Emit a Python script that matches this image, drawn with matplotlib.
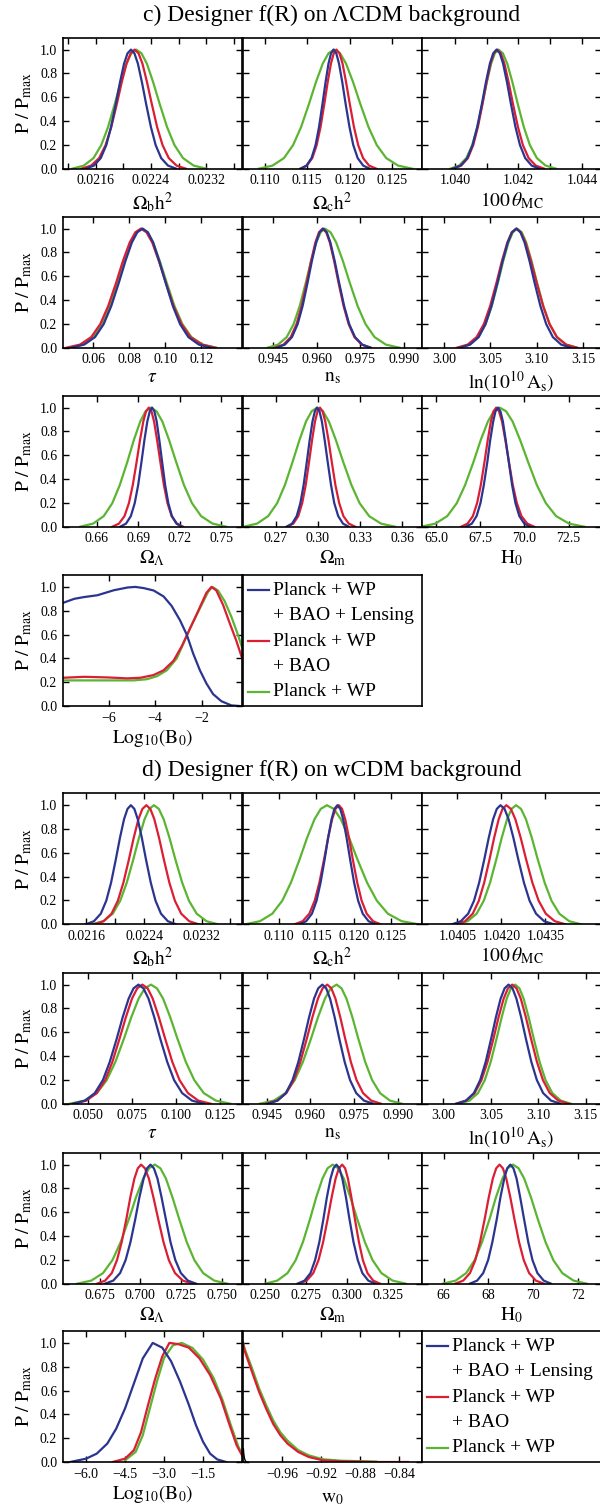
import matplotlib
matplotlib.use('Agg')
import matplotlib.pyplot as plt

plt.rcParams['font.family'] = ['Liberation Serif', 'DejaVu Serif']
plt.rcParams['mathtext.fontset'] = 'stix'

BLUE = '#2b3590'
RED = '#dc1e34'
GREEN = '#5cb532'

# y levels at which the x positions of each curve were read (left tail -> peak -> right tail)
LEVELS = [0.0, 0.026, 0.089, 0.198, 0.35, 0.546, 0.726, 0.883, 0.969, 1.0,
          0.969, 0.883, 0.726, 0.546, 0.35, 0.198, 0.089, 0.026, 0.0]
Y_TICKS = [0.0, 0.2, 0.4, 0.6, 0.8, 1.0]
Y_TICKLABELS = ['0.0', '0.2', '0.4', '0.6', '0.8', '1.0']

# ---------------- c) Designer f(R) on LCDM background ----------------
c_ombh2_lim = (0.02112, 0.02372)
c_ombh2_ticks = [0.0212, 0.0216, 0.0220, 0.0224, 0.0228, 0.0232, 0.0236]
c_ombh2_ticklabels = ['', '0.0216', '', '0.0224', '', '0.0232', '']
c_ombh2_blue = [0.021453, 0.021573, 0.021672, 0.021752, 0.021821, 0.021891, 0.021951, 0.02201, 0.02206, 0.02211, 0.02216, 0.02221, 0.022269, 0.022329, 0.022399, 0.022468, 0.022548, 0.022647, 0.022767]
c_ombh2_red = [0.021391, 0.021531, 0.021648, 0.021742, 0.021824, 0.021906, 0.021976, 0.022046, 0.022105, 0.022163, 0.022219, 0.022276, 0.022343, 0.022411, 0.022489, 0.022568, 0.022658, 0.022771, 0.022906]
c_ombh2_green = [0.021258, 0.021426, 0.021567, 0.021679, 0.021778, 0.021876, 0.02196, 0.022045, 0.022115, 0.022185, 0.022262, 0.02234, 0.022432, 0.022525, 0.022633, 0.022741, 0.022865, 0.023019, 0.023205]

c_omch2_lim = (0.1074, 0.1286)
c_omch2_ticks = [0.110, 0.115, 0.120, 0.125]
c_omch2_ticklabels = ['0.110', '0.115', '0.120', '0.125']
c_omch2_blue = [0.11421, 0.11491, 0.1155, 0.11598, 0.11639, 0.1168, 0.11716, 0.11751, 0.11781, 0.1181, 0.11843, 0.11875, 0.11914, 0.11953, 0.11999, 0.12044, 0.12096, 0.12161, 0.12239]
c_omch2_red = [0.11416, 0.11494, 0.11559, 0.11611, 0.11657, 0.11702, 0.11741, 0.1178, 0.11813, 0.11845, 0.11881, 0.11917, 0.11959, 0.12002, 0.12052, 0.12102, 0.1216, 0.12231, 0.12317]
c_omch2_green = [0.10927, 0.11089, 0.11224, 0.11332, 0.11427, 0.11521, 0.11602, 0.11683, 0.11751, 0.11818, 0.11888, 0.11958, 0.12042, 0.12126, 0.12224, 0.12322, 0.12434, 0.12574, 0.12742]

c_theta_lim = (1.03896, 1.04461)
c_theta_ticks = [1.040, 1.041, 1.042, 1.043, 1.044]
c_theta_ticklabels = ['1.040', '', '1.042', '', '1.044']
c_theta_blue = [1.039924, 1.040176, 1.040386, 1.040554, 1.040701, 1.040848, 1.040974, 1.0411, 1.041205, 1.04131, 1.041413, 1.041515, 1.041638, 1.041761, 1.041905, 1.042048, 1.042212, 1.042417, 1.042663]
c_theta_red = [1.039944, 1.040196, 1.040406, 1.040574, 1.040721, 1.040868, 1.040994, 1.04112, 1.041225, 1.04133, 1.041443, 1.041555, 1.04169, 1.041825, 1.041983, 1.04214, 1.04232, 1.042545, 1.042815]
c_theta_green = [1.039852, 1.040128, 1.040358, 1.040542, 1.040703, 1.040864, 1.041002, 1.04114, 1.041255, 1.04137, 1.041508, 1.041645, 1.04181, 1.041975, 1.042168, 1.04236, 1.04258, 1.042855, 1.043185]

c_tau_lim = (0.0432, 0.1425)
c_tau_ticks = [0.06, 0.08, 0.10, 0.12]
c_tau_ticklabels = ['0.06', '0.08', '0.10', '0.12']
c_tau_blue = [0.0479, 0.0551, 0.0611, 0.0659, 0.0701, 0.0743, 0.0779, 0.0815, 0.0845, 0.0875, 0.0904, 0.0933, 0.0967, 0.1002, 0.1042, 0.1082, 0.1128, 0.1186, 0.1255]
c_tau_red = [0.0453, 0.0528, 0.059, 0.064, 0.0684, 0.0728, 0.0765, 0.0803, 0.0834, 0.0865, 0.0896, 0.0928, 0.0965, 0.1003, 0.1046, 0.109, 0.114, 0.1203, 0.1278]
c_tau_green = [0.0467, 0.0541, 0.0602, 0.065, 0.0693, 0.0736, 0.0772, 0.0809, 0.084, 0.087, 0.0901, 0.0933, 0.097, 0.1008, 0.1051, 0.1095, 0.1145, 0.1208, 0.1283]

c_ns_lim = (0.9345, 0.99645)
c_ns_ticks = [0.945, 0.960, 0.975, 0.990]
c_ns_ticklabels = ['0.945', '0.960', '0.975', '0.990']
c_ns_blue = [0.94603, 0.94897, 0.95142, 0.95338, 0.9551, 0.95681, 0.95828, 0.95975, 0.96098, 0.9622, 0.96345, 0.9647, 0.9662, 0.9677, 0.96945, 0.9712, 0.9732, 0.9757, 0.9787]
c_ns_red = [0.9455, 0.9485, 0.951, 0.953, 0.95475, 0.9565, 0.958, 0.9595, 0.96075, 0.962, 0.96325, 0.9645, 0.966, 0.9675, 0.96925, 0.971, 0.973, 0.9755, 0.9785]
c_ns_green = [0.943, 0.9466, 0.9496, 0.952, 0.9541, 0.9562, 0.958, 0.9598, 0.9613, 0.9628, 0.96475, 0.9667, 0.96904, 0.97138, 0.97411, 0.97684, 0.97996, 0.98386, 0.98854]

c_logA_lim = (2.976, 3.17)
c_logA_ticks = [3.00, 3.05, 3.10, 3.15]
c_logA_ticklabels = ['3.00', '3.05', '3.10', '3.15']
c_logA_blue = [3.017, 3.028, 3.0373, 3.0447, 3.0512, 3.0577, 3.0632, 3.0688, 3.0734, 3.078, 3.0825, 3.087, 3.0924, 3.0978, 3.1041, 3.1104, 3.1176, 3.1266, 3.1374]
c_logA_red = [3.0137, 3.0254, 3.0351, 3.0429, 3.0497, 3.0566, 3.0624, 3.0683, 3.0731, 3.078, 3.083, 3.088, 3.094, 3.1, 3.107, 3.114, 3.122, 3.132, 3.144]
c_logA_green = [3.0163, 3.0277, 3.0372, 3.0448, 3.0515, 3.0581, 3.0638, 3.0695, 3.0743, 3.079, 3.0839, 3.0888, 3.0946, 3.1005, 3.1073, 3.1141, 3.1219, 3.1317, 3.1434]

c_omL_lim = (0.6352, 0.7649)
c_omL_ticks = [0.66, 0.69, 0.72, 0.75]
c_omL_ticklabels = ['0.66', '0.69', '0.72', '0.75']
c_omL_blue = [0.6768, 0.681, 0.6845, 0.6873, 0.6898, 0.6922, 0.6943, 0.6964, 0.6982, 0.6999, 0.7015, 0.7032, 0.7051, 0.7071, 0.7093, 0.7116, 0.7142, 0.7175, 0.7214]
c_omL_red = [0.6711, 0.6759, 0.6799, 0.6831, 0.6859, 0.6887, 0.6911, 0.6935, 0.6955, 0.6975, 0.6994, 0.7013, 0.7035, 0.7058, 0.7084, 0.711, 0.714, 0.7178, 0.7223]
c_omL_green = [0.6479, 0.6572, 0.6649, 0.6711, 0.6765, 0.682, 0.6866, 0.6913, 0.6951, 0.699, 0.7031, 0.7073, 0.7122, 0.7172, 0.7229, 0.7287, 0.7353, 0.7436, 0.7535]

c_omm_lim = (0.2468, 0.3743)
c_omm_ticks = [0.27, 0.30, 0.33, 0.36]
c_omm_ticklabels = ['0.27', '0.30', '0.33', '0.36']
c_omm_blue = [0.2777, 0.2817, 0.285, 0.2876, 0.2899, 0.2922, 0.2942, 0.2962, 0.2979, 0.2995, 0.3012, 0.3029, 0.3049, 0.307, 0.3094, 0.3117, 0.3145, 0.3179, 0.3219]
c_omm_red = [0.2784, 0.2826, 0.2861, 0.2889, 0.2914, 0.2938, 0.2959, 0.298, 0.2998, 0.3015, 0.3034, 0.3053, 0.3076, 0.3099, 0.3125, 0.3152, 0.3182, 0.322, 0.3266]
c_omm_green = [0.2474, 0.2568, 0.2647, 0.2711, 0.2766, 0.2821, 0.2869, 0.2916, 0.2956, 0.2995, 0.3037, 0.3079, 0.3129, 0.318, 0.3239, 0.3297, 0.3365, 0.3449, 0.3549]

c_H0_lim = (64.2, 74.35)
c_H0_ticks = [65.0, 67.5, 70.0, 72.5]
c_H0_ticklabels = ['65.0', '67.5', '70.0', '72.5']
c_H0_blue = [66.69, 67.02, 67.29, 67.51, 67.70, 67.90, 68.06, 68.23, 68.36, 68.5, 68.64, 68.78, 68.94, 69.11, 69.30, 69.49, 69.71, 69.99, 70.32]
c_H0_red = [66.42, 66.78, 67.08, 67.32, 67.53, 67.74, 67.92, 68.1, 68.25, 68.4, 68.56, 68.73, 68.92, 69.12, 69.34, 69.57, 69.83, 70.16, 70.55]
c_H0_green = [64.15, 64.96, 65.63, 66.17, 66.64, 67.12, 67.52, 67.93, 68.26, 68.6, 68.96, 69.33, 69.76, 70.2, 70.7, 71.21, 71.79, 72.52, 73.39]

c_B0_lim = (-8.0, -0.25)
c_B0_ticks = [-6, -4, -2]
c_B0_ticklabels = ['\u22126', '\u22124', '\u22122']
c_B0_blue_x = [-8.0, -7.5, -7.07, -6.5, -5.79, -5.2, -4.86, -4.5, -4.07, -3.64, -3.29, -2.93, -2.64, -2.36, -2.07, -1.79, -1.5, -1.14, -0.71, -0.36]
c_B0_blue_y = [0.865, 0.90, 0.915, 0.93, 0.972, 0.995, 1.0, 0.99, 0.97, 0.92, 0.84, 0.72, 0.6, 0.44, 0.30, 0.19, 0.10, 0.04, 0.005, 0.0]
c_B0_red_x = [-8.0, -7.07, -6.07, -5.21, -4.64, -4.07, -3.64, -3.21, -2.86, -2.57, -2.14, -1.79, -1.57, -1.36, -1.07, -0.79, -0.5, -0.26]
c_B0_red_y = [0.237, 0.245, 0.24, 0.232, 0.237, 0.26, 0.30, 0.38, 0.50, 0.62, 0.80, 0.95, 1.0, 0.97, 0.85, 0.70, 0.55, 0.41]
c_B0_green_x = [-8.0, -7.07, -4.93, -4.36, -3.93, -3.5, -3.07, -2.79, -2.5, -2.07, -1.71, -1.53, -1.29, -1.0, -0.71, -0.43, -0.26]
c_B0_green_y = [0.215, 0.215, 0.215, 0.225, 0.25, 0.30, 0.40, 0.52, 0.65, 0.82, 0.96, 1.0, 0.97, 0.88, 0.75, 0.60, 0.50]

# ---------------- d) Designer f(R) on wCDM background ----------------
d_ombh2_lim = (0.02127, 0.02376)
d_ombh2_ticks = [0.0216, 0.0220, 0.0224, 0.0228, 0.0232, 0.0236]
d_ombh2_ticklabels = ['0.0216', '', '0.0224', '', '0.0232', '']
d_ombh2_blue = [0.02159, 0.021704, 0.021799, 0.021875, 0.021942, 0.022008, 0.022065, 0.022122, 0.02217, 0.022217, 0.022265, 0.022312, 0.022369, 0.022426, 0.022493, 0.022559, 0.022635, 0.02273, 0.022844]
d_ombh2_red = [0.021706, 0.021838, 0.021948, 0.022036, 0.022113, 0.02219, 0.022256, 0.022322, 0.022377, 0.022432, 0.022487, 0.022542, 0.022608, 0.022674, 0.022751, 0.022828, 0.022916, 0.023026, 0.023158]
d_ombh2_green = [0.021679, 0.021835, 0.021965, 0.022069, 0.02216, 0.022251, 0.022329, 0.022407, 0.022472, 0.022537, 0.022605, 0.022672, 0.022753, 0.022834, 0.022929, 0.023023, 0.023131, 0.023266, 0.023428]

d_omch2_lim = (0.10514, 0.1292)
d_omch2_ticks = [0.110, 0.115, 0.120, 0.125]
d_omch2_ticklabels = ['0.110', '0.115', '0.120', '0.125']
d_omch2_blue = [0.11269, 0.11362, 0.11439, 0.11501, 0.11555, 0.1161, 0.11656, 0.11703, 0.11741, 0.1178, 0.11819, 0.11858, 0.11904, 0.11951, 0.12005, 0.12059, 0.12121, 0.12199, 0.12292]
d_omch2_red = [0.11206, 0.11314, 0.11404, 0.11476, 0.11539, 0.11602, 0.11656, 0.1171, 0.11755, 0.118, 0.11843, 0.11885, 0.11936, 0.11987, 0.12047, 0.12106, 0.12174, 0.12259, 0.12361]
d_omch2_green = [0.10541, 0.10741, 0.10907, 0.11041, 0.11157, 0.11274, 0.11374, 0.11474, 0.11557, 0.1164, 0.11733, 0.11826, 0.11938, 0.12049, 0.12179, 0.1231, 0.12458, 0.12644, 0.12868]

d_theta_lim = (1.0393, 1.0454)
d_theta_ticks = [1.0405, 1.0420, 1.0435]
d_theta_ticklabels = ['1.0405', '1.0420', '1.0435']
d_theta_blue = [1.04032, 1.04062, 1.04087, 1.04107, 1.041245, 1.04142, 1.04157, 1.04172, 1.041845, 1.04197, 1.042108, 1.042245, 1.04241, 1.042575, 1.042768, 1.04296, 1.04318, 1.043455, 1.043785]
d_theta_red = [1.040454, 1.040766, 1.041026, 1.041234, 1.041416, 1.041598, 1.041754, 1.04191, 1.04204, 1.04217, 1.042323, 1.042475, 1.042658, 1.042841, 1.043055, 1.043268, 1.043512, 1.043817, 1.044183]
d_theta_green = [1.040487, 1.040853, 1.041158, 1.041402, 1.041616, 1.041829, 1.042012, 1.042195, 1.042348, 1.0425, 1.042668, 1.042835, 1.043036, 1.043237, 1.043472, 1.043706, 1.043974, 1.044309, 1.044711]

d_tau_lim = (0.0354, 0.1376)
d_tau_ticks = [0.050, 0.075, 0.100, 0.125]
d_tau_ticklabels = ['0.050', '0.075', '0.100', '0.125']
d_tau_blue = [0.0413, 0.0481, 0.0537, 0.0583, 0.0622, 0.0662, 0.0696, 0.073, 0.0758, 0.0786, 0.0814, 0.0843, 0.0876, 0.091, 0.095, 0.0989, 0.1035, 0.1091, 0.1159]
d_tau_red = [0.0419, 0.0489, 0.0548, 0.0596, 0.0637, 0.0678, 0.0714, 0.0749, 0.0779, 0.0808, 0.0838, 0.0867, 0.0902, 0.0938, 0.0979, 0.102, 0.1068, 0.1127, 0.1197]
d_tau_green = [0.0395, 0.0479, 0.0549, 0.0605, 0.0654, 0.0703, 0.0745, 0.0787, 0.0822, 0.0857, 0.0891, 0.0926, 0.0967, 0.1008, 0.1056, 0.1104, 0.1158, 0.1227, 0.1309]

d_ns_lim = (0.9368, 0.9985)
d_ns_ticks = [0.945, 0.960, 0.975, 0.990]
d_ns_ticklabels = ['0.945', '0.960', '0.975', '0.990']
d_ns_blue = [0.94529, 0.94871, 0.95156, 0.95384, 0.95584, 0.95783, 0.95954, 0.96125, 0.96268, 0.9641, 0.96543, 0.96675, 0.96834, 0.96993, 0.97179, 0.97364, 0.97576, 0.97841, 0.98159]
d_ns_red = [0.94468, 0.94852, 0.95172, 0.95428, 0.95652, 0.95876, 0.96068, 0.9626, 0.9642, 0.9658, 0.9672, 0.9686, 0.97028, 0.97196, 0.97392, 0.97588, 0.97812, 0.98092, 0.98428]
d_ns_green = [0.9426, 0.9474, 0.9514, 0.9546, 0.9574, 0.9602, 0.9626, 0.965, 0.967, 0.969, 0.9707, 0.9724, 0.97444, 0.97648, 0.97886, 0.98124, 0.98396, 0.98736, 0.99144]

d_logA_lim = (2.9774, 3.1664)
d_logA_ticks = [3.00, 3.05, 3.10, 3.15]
d_logA_ticklabels = ['3.00', '3.05', '3.10', '3.15']
d_logA_blue = [3.0138, 3.0238, 3.0321, 3.0387, 3.0445, 3.0503, 3.0553, 3.0603, 3.0645, 3.0686, 3.0728, 3.0769, 3.0819, 3.0869, 3.0927, 3.0985, 3.1051, 3.1134, 3.1234]
d_logA_red = [3.0131, 3.0239, 3.0329, 3.0401, 3.0464, 3.0527, 3.0581, 3.0635, 3.068, 3.0725, 3.077, 3.0815, 3.0869, 3.0923, 3.0986, 3.1049, 3.1121, 3.1211, 3.1319]
d_logA_green = [3.0169, 3.0275, 3.0364, 3.0436, 3.0498, 3.056, 3.0614, 3.0667, 3.0712, 3.0756, 3.0801, 3.0845, 3.0898, 3.0952, 3.1014, 3.1076, 3.1148, 3.1237, 3.1343]

d_omL_lim = (0.6523, 0.7626)
d_omL_ticks = [0.675, 0.700, 0.725, 0.750]
d_omL_ticklabels = ['0.675', '0.700', '0.725', '0.750']
d_omL_blue = [0.6783, 0.6834, 0.6876, 0.691, 0.694, 0.697, 0.6995, 0.7021, 0.7042, 0.7063, 0.7084, 0.7106, 0.7131, 0.7157, 0.7186, 0.7216, 0.725, 0.7293, 0.7344]
d_omL_red = [0.6734, 0.6784, 0.6825, 0.6857, 0.6886, 0.6915, 0.6939, 0.6964, 0.6985, 0.7005, 0.7029, 0.7053, 0.7081, 0.711, 0.7143, 0.7176, 0.7214, 0.7262, 0.7319]
d_omL_green = [0.6612, 0.6699, 0.6771, 0.6829, 0.688, 0.6931, 0.6974, 0.7018, 0.7054, 0.709, 0.7124, 0.7158, 0.7198, 0.7239, 0.7286, 0.7333, 0.7387, 0.7455, 0.7536]

d_omm_lim = (0.2366, 0.3458)
d_omm_ticks = [0.250, 0.275, 0.300, 0.325]
d_omm_ticklabels = ['0.250', '0.275', '0.300', '0.325']
d_omm_blue = [0.2697, 0.2741, 0.2777, 0.2805, 0.2831, 0.2856, 0.2877, 0.2899, 0.2917, 0.2935, 0.2953, 0.2971, 0.2993, 0.3014, 0.3039, 0.3065, 0.3093, 0.3129, 0.3173]
d_omm_red = [0.2706, 0.2754, 0.2794, 0.2826, 0.2854, 0.2882, 0.2906, 0.293, 0.295, 0.297, 0.2988, 0.3005, 0.3026, 0.3047, 0.3072, 0.3096, 0.3124, 0.3159, 0.3201]
d_omm_green = [0.25, 0.2575, 0.2637, 0.2687, 0.2731, 0.2775, 0.2812, 0.285, 0.2881, 0.2912, 0.2946, 0.298, 0.302, 0.3061, 0.3108, 0.3155, 0.3209, 0.3277, 0.3358]

d_H0_lim = (65.04, 73.04)
d_H0_ticks = [66, 68, 70, 72]
d_H0_ticklabels = ['66', '68', '70', '72']
d_H0_blue = [67.17, 67.5, 67.77, 67.99, 68.18, 68.38, 68.54, 68.71, 68.84, 68.98, 69.12, 69.26, 69.42, 69.59, 69.78, 69.97, 70.19, 70.47, 70.8]
d_H0_red = [66.52, 66.88, 67.18, 67.42, 67.63, 67.84, 68.02, 68.2, 68.35, 68.5, 68.65, 68.8, 68.98, 69.16, 69.37, 69.58, 69.82, 70.12, 70.48]
d_H0_green = [65.97, 66.54, 67.01, 67.39, 67.72, 68.06, 68.34, 68.63, 68.86, 69.1, 69.35, 69.6, 69.9, 70.2, 70.55, 70.9, 71.3, 71.8, 72.4]

d_B0_lim = (-6.9, 0.0)
d_B0_ticks = [-6.0, -4.5, -3.0, -1.5]
d_B0_ticklabels = ['\u22126.0', '\u22124.5', '\u22123.0', '\u22121.5']
d_B0_blue_x = [-6.614, -6.0, -5.591, -5.182, -4.841, -4.5, -4.159, -3.818, -3.436, -3.068, -2.727, -2.386, -2.045, -1.773, -1.5, -1.227, -0.955, -0.614]
d_B0_blue_y = [0.0, 0.028, 0.07, 0.155, 0.28, 0.45, 0.66, 0.87, 1.0, 0.96, 0.845, 0.676, 0.48, 0.31, 0.17, 0.07, 0.022, 0.0]
d_B0_red_x = [-4.977, -4.5, -4.159, -3.886, -3.614, -3.341, -3.068, -2.795, -2.455, -2.045, -1.636, -1.227, -0.818, -0.477, -0.205, 0.0]
d_B0_red_y = [0.0, 0.028, 0.1, 0.25, 0.48, 0.70, 0.887, 1.0, 0.99, 0.96, 0.87, 0.73, 0.535, 0.31, 0.14, 0.056]
d_B0_green_x = [-4.5, -4.091, -3.818, -3.545, -3.273, -3.0, -2.659, -2.318, -1.909, -1.5, -1.091, -0.75, -0.409, -0.136, 0.0]
d_B0_green_y = [0.014, 0.085, 0.225, 0.45, 0.676, 0.873, 0.98, 1.0, 0.958, 0.86, 0.704, 0.521, 0.296, 0.127, 0.07]

d_w0_lim = (-1.0, -0.8164)
d_w0_ticks = [-0.96, -0.92, -0.88, -0.84]
d_w0_ticklabels = ['\u22120.96', '\u22120.92', '\u22120.88', '\u22120.84']
d_w0_red_x = [-1.0, -0.9982, -0.9909, -0.9836, -0.9764, -0.9691, -0.9618, -0.9545, -0.9436, -0.9327, -0.9182, -0.9, -0.8636, -0.8309]
d_w0_red_y = [1.0, 0.93, 0.76, 0.59, 0.45, 0.32, 0.225, 0.155, 0.085, 0.042, 0.014, 0.006, 0.0, 0.0]
d_w0_green_x = [-1.0, -0.9982, -0.9909, -0.9836, -0.9764, -0.9691, -0.9618, -0.9545, -0.9436, -0.9327, -0.9182, -0.9, -0.8636]
d_w0_green_y = [1.0, 0.95, 0.79, 0.62, 0.48, 0.35, 0.25, 0.18, 0.10, 0.056, 0.023, 0.011, 0.003]
d_w0_black_x = [-0.9996, -0.9992, -0.9985, -0.9975, -0.996]
d_w0_black_y = [0.11, 0.07, 0.03, 0.008, 0.0]

LEGEND_LABELS = [['Planck + WP', '+ BAO + Lensing'], ['Planck + WP', '+ BAO'], ['Planck + WP']]

LBL = {
    'ombh2': r'$\Omega_{\rm b}{\rm h}^2$',
    'omch2': r'$\Omega_{\rm c}{\rm h}^2$',
    'theta': r'$100\,\theta_{\rm MC}$',
    'tau': r'$\tau$',
    'ns': r'${\rm n_s}$',
    'logA': r'${\rm ln}(10^{10}\,{\rm A_s})$',
    'omL': r'$\Omega_\Lambda$',
    'omm': r'$\Omega_{\rm m}$',
    'H0': r'${\rm H_0}$',
    'B0': r'${\rm Log}_{10}({\rm B_0})$',
    'w0': r'${\rm w_0}$',
}

# ---------------- layout (pixels) ----------------
W, H = 600, 1505
COL_X = [62.7, 243.0, 422.0]
AX_W = 179.3
AX_H = 131.0
C_ROWS = [37.7, 216.7, 395.7, 575.0]
D_ROWS = [793.3, 972.7, 1152.7, 1331.0]

fig = plt.figure(figsize=(W / 100, H / 100), dpi=100)


def make_ax(col, top):
    return fig.add_axes([COL_X[col] / W, 1 - (top + AX_H) / H, AX_W / W, AX_H / H])


def style(ax, col, xlim, ticks, ticklabels, xlabel, labelpad=2):
    ax.set_xlim(*xlim)
    ax.set_ylim(0, 1.1)
    ax.set_xticks(ticks)
    ax.set_xticklabels(ticklabels)
    ax.set_yticks(Y_TICKS)
    if col == 0:
        ax.set_yticklabels(Y_TICKLABELS)
        ax.set_ylabel(r'${\rm P\ /\ P_{max}}$', fontsize=14, labelpad=4)
    else:
        ax.set_yticklabels([])
    ax.tick_params(direction='in', top=True, right=True, length=4, width=1,
                   labelsize=10, pad=4)
    ax.set_xlabel(xlabel, fontsize=14, labelpad=labelpad)
    for s in ax.spines.values():
        s.set_linewidth(1.2)


def gauss_panel(col, top, xlim, ticks, ticklabels, xlabel, blue, red, green):
    ax = make_ax(col, top)
    ax.plot(green, LEVELS, color=GREEN, lw=1.6)
    ax.plot(red, LEVELS, color=RED, lw=1.6)
    ax.plot(blue, LEVELS, color=BLUE, lw=1.6)
    style(ax, col, xlim, ticks, ticklabels, xlabel)
    return ax


def legend_box(col, top):
    ax = make_ax(col, top)
    ax.set_xlim(0, 1)
    ax.set_ylim(0, 1)
    ax.set_xticks([])
    ax.set_yticks([])
    for s in ax.spines.values():
        s.set_linewidth(1.2)
    ys = [0.885, 0.496, 0.109]
    for color, y, lines in zip([BLUE, RED, GREEN], ys, LEGEND_LABELS):
        ax.plot([0.028, 0.145], [y, y], color=color, lw=1.6)
        for k, line in enumerate(lines):
            ax.text(0.167, y - k * 0.195, line, fontsize=14, va='center', ha='left')


# panel c
c_rows = [
    [('ombh2', c_ombh2_lim, c_ombh2_ticks, c_ombh2_ticklabels, c_ombh2_blue, c_ombh2_red, c_ombh2_green),
     ('omch2', c_omch2_lim, c_omch2_ticks, c_omch2_ticklabels, c_omch2_blue, c_omch2_red, c_omch2_green),
     ('theta', c_theta_lim, c_theta_ticks, c_theta_ticklabels, c_theta_blue, c_theta_red, c_theta_green)],
    [('tau', c_tau_lim, c_tau_ticks, c_tau_ticklabels, c_tau_blue, c_tau_red, c_tau_green),
     ('ns', c_ns_lim, c_ns_ticks, c_ns_ticklabels, c_ns_blue, c_ns_red, c_ns_green),
     ('logA', c_logA_lim, c_logA_ticks, c_logA_ticklabels, c_logA_blue, c_logA_red, c_logA_green)],
    [('omL', c_omL_lim, c_omL_ticks, c_omL_ticklabels, c_omL_blue, c_omL_red, c_omL_green),
     ('omm', c_omm_lim, c_omm_ticks, c_omm_ticklabels, c_omm_blue, c_omm_red, c_omm_green),
     ('H0', c_H0_lim, c_H0_ticks, c_H0_ticklabels, c_H0_blue, c_H0_red, c_H0_green)],
]
d_rows = [
    [('ombh2', d_ombh2_lim, d_ombh2_ticks, d_ombh2_ticklabels, d_ombh2_blue, d_ombh2_red, d_ombh2_green),
     ('omch2', d_omch2_lim, d_omch2_ticks, d_omch2_ticklabels, d_omch2_blue, d_omch2_red, d_omch2_green),
     ('theta', d_theta_lim, d_theta_ticks, d_theta_ticklabels, d_theta_blue, d_theta_red, d_theta_green)],
    [('tau', d_tau_lim, d_tau_ticks, d_tau_ticklabels, d_tau_blue, d_tau_red, d_tau_green),
     ('ns', d_ns_lim, d_ns_ticks, d_ns_ticklabels, d_ns_blue, d_ns_red, d_ns_green),
     ('logA', d_logA_lim, d_logA_ticks, d_logA_ticklabels, d_logA_blue, d_logA_red, d_logA_green)],
    [('omL', d_omL_lim, d_omL_ticks, d_omL_ticklabels, d_omL_blue, d_omL_red, d_omL_green),
     ('omm', d_omm_lim, d_omm_ticks, d_omm_ticklabels, d_omm_blue, d_omm_red, d_omm_green),
     ('H0', d_H0_lim, d_H0_ticks, d_H0_ticklabels, d_H0_blue, d_H0_red, d_H0_green)],
]

for rows, tops in [(c_rows, C_ROWS), (d_rows, D_ROWS)]:
    for r, row in enumerate(rows):
        for col, (key, lim, ticks, tl, b, rd, g) in enumerate(row):
            gauss_panel(col, tops[r], lim, ticks, tl, LBL[key], b, rd, g)

# c: B0 panel + legend
ax = make_ax(0, C_ROWS[3])
ax.plot(c_B0_green_x, c_B0_green_y, color=GREEN, lw=1.6)
ax.plot(c_B0_red_x, c_B0_red_y, color=RED, lw=1.6)
ax.plot(c_B0_blue_x, c_B0_blue_y, color=BLUE, lw=1.6)
style(ax, 0, c_B0_lim, c_B0_ticks, c_B0_ticklabels, LBL['B0'])
legend_box(1, C_ROWS[3])

# d: B0, w0 panels + legend
ax = make_ax(0, D_ROWS[3])
ax.plot(d_B0_green_x, d_B0_green_y, color=GREEN, lw=1.6)
ax.plot(d_B0_red_x, d_B0_red_y, color=RED, lw=1.6)
ax.plot(d_B0_blue_x, d_B0_blue_y, color=BLUE, lw=1.6)
style(ax, 0, d_B0_lim, d_B0_ticks, d_B0_ticklabels, LBL['B0'])

ax = make_ax(1, D_ROWS[3])
ax.plot(d_w0_green_x, d_w0_green_y, color=GREEN, lw=1.6)
ax.plot(d_w0_red_x, d_w0_red_y, color=RED, lw=1.6)
ax.plot(d_w0_black_x, d_w0_black_y, color='black', lw=1.0)
style(ax, 1, d_w0_lim, d_w0_ticks, d_w0_ticklabels, LBL['w0'], labelpad=7)
legend_box(2, D_ROWS[3])

fig.text(332 / W, 1 - 15 / H, 'c) Designer f(R) on \u039bCDM background', fontsize=17,
         ha='center', va='center')
fig.text(332 / W, 1 - 770 / H, 'd) Designer f(R) on wCDM background', fontsize=17,
         ha='center', va='center')

fig.savefig('out.png', dpi=100)
